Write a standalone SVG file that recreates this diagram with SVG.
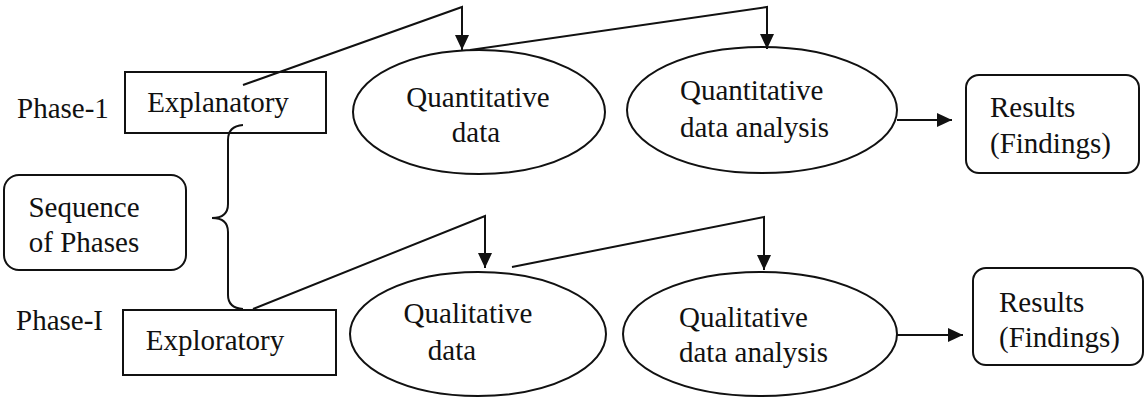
<svg xmlns="http://www.w3.org/2000/svg" width="1146" height="398" viewBox="0 0 1146 398">
<style>
.t{font-family:"Liberation Serif","Times New Roman",serif;font-size:29px;fill:#111}
.shape{fill:#fff;stroke:#111;stroke-width:2}
.conn{fill:none;stroke:#111;stroke-width:2}
</style>
<defs>
<marker id="ah" markerUnits="userSpaceOnUse" markerWidth="15" markerHeight="14" refX="15" refY="7" orient="auto">
<path d="M0,0 L15,7 L0,14 z" fill="#111"/>
</marker>
</defs>
<rect width="1146" height="398" fill="#fff"/>
<text class="t" x="17" y="118">Phase-1</text>
<text class="t" x="16" y="330">Phase-I</text>
<g id="explanatory">
<rect class="shape" x="125" y="72" width="201" height="61"/>
<text class="t" x="218" y="112" text-anchor="middle">Explanatory</text>
</g>
<g id="exploratory">
<rect class="shape" x="123" y="310" width="213" height="65"/>
<text class="t" x="215" y="350" text-anchor="middle">Exploratory</text>
</g>
<g id="sequence">
<rect class="shape" x="4" y="175" width="182" height="95" rx="15"/>
<text class="t" x="84" y="217" text-anchor="middle">Sequence</text>
<text class="t" x="84" y="252" text-anchor="middle">of Phases</text>
</g>
<g id="quant-data">
<ellipse class="shape" cx="479" cy="112" rx="126" ry="62"/>
<text class="t" x="478" y="107" text-anchor="middle">Quantitative</text>
<text class="t" x="476" y="142" text-anchor="middle">data</text>
</g>
<g id="quant-analysis">
<ellipse class="shape" cx="762" cy="110" rx="135" ry="63"/>
<text class="t" x="680" y="100">Quantitative</text>
<text class="t" x="680" y="137">data analysis</text>
</g>
<g id="qual-data">
<ellipse class="shape" cx="478" cy="334" rx="128" ry="62"/>
<text class="t" x="468" y="323" text-anchor="middle">Qualitative</text>
<text class="t" x="452" y="360" text-anchor="middle">data</text>
</g>
<g id="qual-analysis">
<ellipse class="shape" cx="760" cy="334" rx="137" ry="62"/>
<text class="t" x="679" y="327">Qualitative</text>
<text class="t" x="679" y="362">data analysis</text>
</g>
<g id="results-1">
<rect class="shape" x="966" y="75" width="173" height="98" rx="13"/>
<text class="t" x="990" y="117">Results</text>
<text class="t" x="990" y="153">(Findings)</text>
</g>
<g id="results-2">
<rect class="shape" x="973" y="268" width="170" height="97" rx="13"/>
<text class="t" x="999" y="312">Results</text>
<text class="t" x="999" y="347">(Findings)</text>
</g>
<g id="connectors">
<polyline class="conn" points="243,85 462,7 462,50" marker-end="url(#ah)"/>
<polyline class="conn" points="470,50 767,7 767,49" marker-end="url(#ah)"/>
<line class="conn" x1="897" y1="120" x2="952" y2="120" marker-end="url(#ah)"/>
<polyline class="conn" points="253,309 485,216 485,268" marker-end="url(#ah)"/>
<polyline class="conn" points="512,267 764,217 764,270" marker-end="url(#ah)"/>
<line class="conn" x1="897" y1="335" x2="963" y2="335" marker-end="url(#ah)"/>
<path class="conn" d="M243,125 Q228,126 228,140 L228,204 Q228,218 212,218 Q228,218 228,232 L228,295 Q228,308 243,309"/>
</g>
</svg>
